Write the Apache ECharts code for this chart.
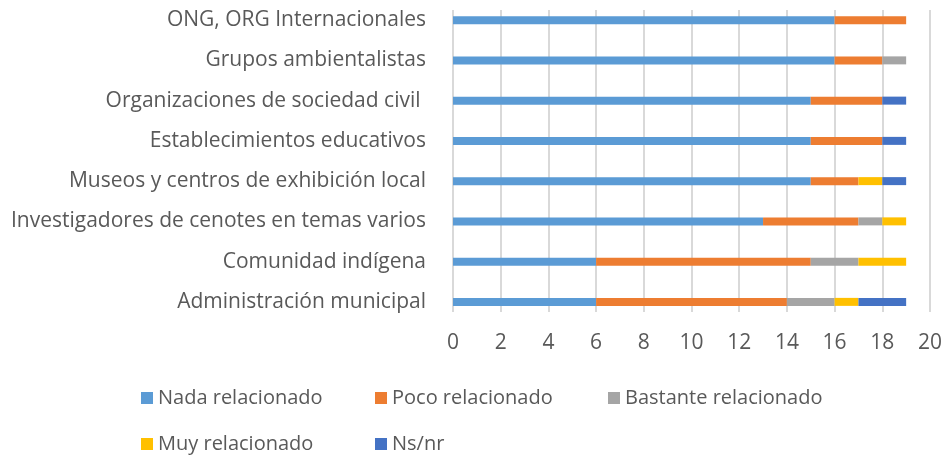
<!DOCTYPE html>
<html><head><meta charset="utf-8">
<script src="https://cdn.jsdelivr.net/npm/echarts@6/dist/echarts.min.js"></script>
<style>html,body{margin:0;padding:0;background:#fff}#c{width:948px;height:474px}</style>
</head><body><div id="c"></div>
<script>
const categories = [
  "Administración municipal",
  "Comunidad indígena",
  "Investigadores de cenotes en temas varios",
  "Museos y centros de exhibición local",
  "Establecimientos educativos",
  "Organizaciones de sociedad civil ",
  "Grupos ambientalistas",
  "ONG, ORG Internacionales"
];
const nada     = [6, 6, 13, 15, 15, 15, 16, 16];
const poco     = [8, 9, 4, 2, 3, 3, 2, 3];
const bastante = [2, 2, 1, 0, 0, 0, 1, 0];
const muy      = [1, 2, 1, 1, 0, 0, 0, 0];
const nsnr     = [2, 0, 0, 1, 1, 1, 0, 0];
const seriesNames = ["Nada relacionado","Poco relacionado","Bastante relacionado","Muy relacionado","Ns/nr"];
const seriesData = [nada, poco, bastante, muy, nsnr];
const colors = ["#5B9BD5","#ED7D31","#A5A5A5","#FFC000","#4472C4"];
const xTicks = {min: 0, max: 20, interval: 2};

const txt = "#595959";
const font = "Open Sans";
const legendPos = [[141,388],[375,388],[608,388],[141,434],[375,434]];

const chart = echarts.init(document.getElementById('c'), null, {renderer:'canvas'});
chart.setOption({
  animation: false,
  color: colors,
  grid: [
    {left: 453, right: 18, top: 0, height: 322},
    {left: 453, right: 18, top: 10, height: 302}
  ],
  xAxis: [
    {gridIndex: 0, type: 'value', min: xTicks.min, max: xTicks.max, interval: xTicks.interval,
     show: false, splitLine: {show: false}},
    {gridIndex: 1, type: 'value', min: xTicks.min, max: xTicks.max, interval: xTicks.interval,
     axisLine: {show: false}, axisTick: {show: false},
     splitLine: {show: true, lineStyle: {color: '#d9d9d9', width: 2}},
     axisLabel: {color: txt, fontSize: 21, fontFamily: font, margin: 21}}
  ],
  yAxis: [
    {gridIndex: 0, type: 'category', data: categories,
     axisLine: {show: false}, axisTick: {show: false}, splitLine: {show: false},
     axisLabel: {color: txt, fontSize: 21, fontFamily: font, margin: 27}},
    {gridIndex: 1, type: 'category', data: categories,
     axisLine: {show: false}, axisTick: {show: false}, axisLabel: {show: false}, splitLine: {show: false}}
  ],
  legend: seriesNames.map((n, i) => ({
    data: [n], left: legendPos[i][0], top: legendPos[i][1], padding: 0,
    itemWidth: 12, itemHeight: 12, icon: 'rect',
    textStyle: {color: txt, fontSize: 20, fontFamily: font}
  })),
  series: seriesNames.map((n, i) => ({
    name: n, type: 'bar', stack: 'total', xAxisIndex: 0, yAxisIndex: 0,
    barWidth: 8, data: seriesData[i],
    itemStyle: {color: colors[i]}
  })).concat([{
    type: 'line', xAxisIndex: 1, yAxisIndex: 1, data: [], silent: true, showSymbol: false
  }])
});
</script>
</body></html>
